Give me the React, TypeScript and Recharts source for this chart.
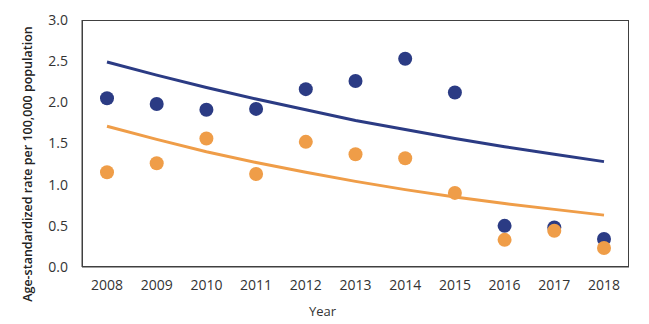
import {
  ComposedChart,
  Scatter,
  Line,
  XAxis,
  YAxis,
} from "recharts";

const years = ["2008", "2009", "2010", "2011", "2012", "2013", "2014", "2015", "2016", "2017", "2018"];
const navyRates = [2.05, 1.98, 1.91, 1.92, 2.16, 2.26, 2.53, 2.12, 0.5, 0.48, 0.34];
const orangeRates = [1.15, 1.26, 1.56, 1.13, 1.52, 1.37, 1.32, 0.9, 0.33, 0.44, 0.23];
const navyTrend = [2.49, 2.33, 2.18, 2.04, 1.91, 1.78, 1.67, 1.56, 1.46, 1.37, 1.28];
const orangeTrend = [1.71, 1.55, 1.4, 1.27, 1.15, 1.04, 0.94, 0.85, 0.77, 0.7, 0.63];
const yTicks = [0, 0.5, 1, 1.5, 2, 2.5, 3];

const NAVY = "#2B3B84";
const ORANGE = "#EF9D48";
const AXIS = "#404040";
const FONT = "'Open Sans', sans-serif";

const data = years.map((year, i) => ({
  year,
  navy: navyRates[i],
  orange: orangeRates[i],
  navyTrend: navyTrend[i],
  orangeTrend: orangeTrend[i],
}));

const dot = (color: string) => (props: any) =>
  <circle cx={props.cx} cy={props.cy} r={7} fill={color} />;

export default function App() {
  return (
    <div style={{ position: "absolute", left: 0, top: 0, width: 649, height: 324, background: "#fff" }}>
      <ComposedChart
        width={649}
        height={324}
        data={data}
        margin={{ top: 20, right: 20, bottom: 0, left: 0 }}
        style={{ fontFamily: FONT }}
      >
        <XAxis
          dataKey="year"
          height={57}
          padding={{ left: 25, right: 25 }}
          tickLine={false}
          tickSize={0}
          tickMargin={13}
          stroke={AXIS}
          tick={{ fill: "#333", fontSize: 14 }}
          label={{
            value: "Year",
            position: "insideBottom",
            offset: 8,
            dx: -33,
            fill: "#333",
            fontSize: 13,
          }}
        />
        <YAxis
          width={82}
          domain={[0, 3]}
          ticks={yTicks}
          tickFormatter={(v: number) => v.toFixed(1)}
          tickLine={false}
          tickSize={0}
          tickMargin={14}
          stroke={AXIS}
          tick={{ fill: "#333", fontSize: 14 }}
          label={{
            content: () => (
              <text
                x={27}
                y={164}
                transform="rotate(-90 27 164)"
                textAnchor="middle"
                dominantBaseline="central"
                fontSize={12.5}
                fontWeight={600}
                fill="#222"
                fontFamily={FONT}
              >
                Age-standardized rate per 100,000 population
              </text>
            ),
          }}
        />
        <Line dataKey="navyTrend" stroke={NAVY} strokeWidth={3} dot={false} isAnimationActive={false} />
        <Line dataKey="orangeTrend" stroke={ORANGE} strokeWidth={3} dot={false} isAnimationActive={false} />
        <Scatter dataKey="navy" fill={NAVY} shape={dot(NAVY)} isAnimationActive={false} />
        <Scatter dataKey="orange" fill={ORANGE} shape={dot(ORANGE)} isAnimationActive={false} />
      </ComposedChart>
      {/* plot frame */}
      <div
        style={{
          position: "absolute",
          left: 82,
          top: 20,
          width: 547,
          height: 247,
          border: `1px solid ${AXIS}`,
          boxSizing: "border-box",
          pointerEvents: "none",
        }}
      />
    </div>
  );
}
